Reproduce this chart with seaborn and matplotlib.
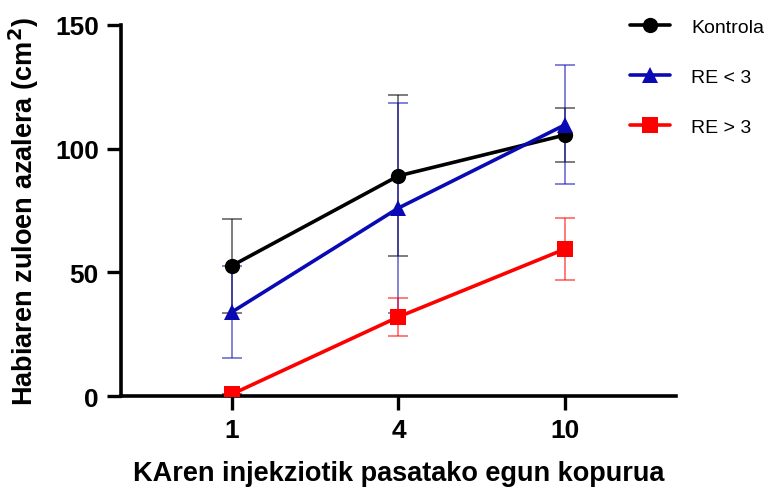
import numpy as np
import pandas as pd
import matplotlib
matplotlib.use("Agg")
import matplotlib.pyplot as plt
import seaborn as sns

# Data (mean +/- error)
days = ["1", "4", "10"]
groups = ["Kontrola", "RE < 3", "RE > 3"]
kontrola_mean = [52.7, 89.0, 105.5]
kontrola_err = [19.0, 32.5, 11.0]
re_low_mean = [34.0, 76.0, 109.6]
re_low_err = [18.6, 42.5, 24.0]
re_high_mean = [0.8, 32.0, 59.4]
re_high_err = [0.0, 7.6, 12.5]

colors = {"Kontrola": "#000000", "RE < 3": "#0a0ab4", "RE > 3": "#ff0000"}
markers = {"Kontrola": "o", "RE < 3": "^", "RE > 3": "s"}

means = [kontrola_mean, re_low_mean, re_high_mean]
errs = [kontrola_err, re_low_err, re_high_err]

rows = []
for g, m, e in zip(groups, means, errs):
    for i, d in enumerate(days):
        rows.append({"group": g, "pos": i, "day": d, "mean": m[i], "err": e[i]})
df = pd.DataFrame(rows)

sns.set_style("ticks")
plt.rcParams["font.family"] = ["Liberation Sans", "DejaVu Sans"]
for key in ["text.color", "axes.labelcolor", "xtick.color", "ytick.color", "axes.edgecolor"]:
    plt.rcParams[key] = "black"

fig = plt.figure(figsize=(7.68, 4.89), dpi=100)
ax = fig.add_axes([0.1576, 0.188, 0.7224, 0.759])

# error bars first (thin, semi-transparent)
for g in groups:
    sub = df[df["group"] == g]
    ax.errorbar(sub["pos"], sub["mean"], yerr=sub["err"], fmt="none",
                ecolor=colors[g], elinewidth=1.2, capsize=7, capthick=1.2,
                alpha=0.6, zorder=2)

sns.lineplot(data=df, x="pos", y="mean", hue="group", style="group",
             palette=colors, markers=markers, dashes=False, linewidth=2.6,
             markersize=11, markeredgewidth=0, ax=ax, zorder=3,
             hue_order=groups, style_order=groups)

ax.set_xlim(-0.667, 2.667)
ax.set_ylim(0, 150)
ax.set_xticks(range(len(days)))
ax.set_xticklabels(days)
ax.set_yticks([0, 50, 100, 150])
ax.tick_params(axis="both", width=2.4, length=10, pad=6, labelsize=19)
for lab in ax.get_xticklabels() + ax.get_yticklabels():
    lab.set_fontweight("bold")
for s in ["left", "bottom"]:
    ax.spines[s].set_linewidth(2.6)
sns.despine(ax=ax)

ax.set_xlabel("KAren injekziotik pasatako egun kopurua", fontsize=19.5,
              fontweight="bold", labelpad=13)
ax.set_ylabel("Habiaren zuloen azalera (cm$^{\\mathbf{2}}$)", fontsize=19.5,
              fontweight="bold", labelpad=10)

handles, labels = ax.get_legend_handles_labels()
leg = fig.legend(handles, labels, loc="upper left", bbox_to_anchor=(0.820, 0.960),
                 frameon=False, fontsize=14, handlelength=2.06,
                 labelspacing=1.65, handletextpad=1.1, borderpad=0,
                 borderaxespad=0)
ax.get_legend().remove()

fig.savefig("out.png", dpi=100)
